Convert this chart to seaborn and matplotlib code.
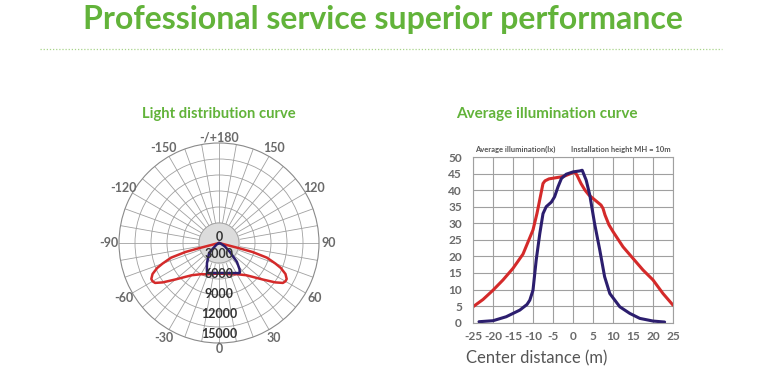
import numpy as np
import matplotlib
matplotlib.use("Agg")
import matplotlib.pyplot as plt
import seaborn as sns

# light distribution curve (polar, angle in degrees from nadir, intensity in cd)
red_angle = [-76, -75.5, -75, -73, -70, -68, -65, -62, -60, -58, -55, -50, -45, -40, -35, -30, -20, -10, 0,
             10, 20, 30, 35, 40, 45, 50, 55, 58, 60, 62, 65, 68, 70, 73, 75, 75.5, 76]
red_cd = [0, 3000, 5200, 7500, 9000, 10000, 11000, 11500, 11500, 11300, 10300, 8500, 7200, 6300, 5800, 5400,
          5000, 4700, 4600, 4700, 5000, 5400, 5800, 6300, 7200, 8500, 10300, 11300, 11500, 11500, 11000, 10000,
          9000, 7500, 5200, 3000, 0]
blue_angle = [-62, -56, -45, -31, -25, -21.8, -20, -10, 0, 10, 20, 30, 33, 35, 38, 43.5, 50.7, 60, 70, 74]
blue_cd = [0, 500, 2100, 3500, 4300, 4800, 4800, 4570, 4500, 4570, 4800, 5200, 5400, 5450, 5000, 3900, 2100,
           1000, 300, 0]
ring_labels = [0, 3000, 6000, 9000, 12000, 15000]
angle_ticks = list(range(0, 360, 10))
angle_names = {0: "0", 30: "30", 60: "60", 90: "90", 120: "120", 150: "150", 180: "-/+180",
               210: "-150", 240: "-120", 270: "-90", 300: "-60", 330: "-30"}

# average illumination curve
red_dist = [-25, -22.5, -20, -17.5, -15, -12.5, -10, -9, -8, -7.5, -7, -6, -5, -4, -3, -2, -1, 0, 0.5, 1, 2, 3,
            4, 5, 6, 7, 7.5, 8, 9, 10, 12.5, 15, 17.5, 20, 22.5, 25]
red_lux = [4.8, 7, 9.8, 12.9, 16.4, 20.7, 28, 33, 39, 42, 42.8, 43.4, 43.6, 43.8, 44, 44.3, 44.8, 45.3, 45.4,
           44.5, 42, 40, 38.5, 37.5, 36.5, 35.5, 34.5, 32.5, 29.5, 27.5, 22.9, 19.4, 15.9, 12.9, 8.8, 5.3]
blue_dist = [-23.5, -20, -16.7, -13.3, -11.5, -10.8, -10, -9.2, -8.3, -7.5, -6.7, -5.4, -4.6, -3.75, -2.9, -1.7,
             0, 1.7, 2.3, 3.3, 4.2, 5.4, 6.7, 7.9, 9.2, 11.7, 14.2, 16.7, 20, 22.9]
blue_lux = [0.3, 0.6, 1.8, 3.8, 5.5, 6.8, 9.8, 18.9, 26.9, 32.9, 35, 36.4, 38, 41, 43.5, 44.8, 45.5, 45.8, 46,
            43, 38.5, 29.9, 21.9, 13.9, 8.8, 4.8, 2.8, 1.3, 0.5, 0.2]
x_ticks = list(range(-25, 30, 5))
y_ticks = list(range(0, 55, 5))

RED = "#d42a2a"
BLUE = "#2c1e6e"
GREEN = "#62b33a"
GRID = "#a0a0a0"

sns.set_style("white")
plt.rcParams["font.family"] = ["Lato", "DejaVu Sans"]
plt.rcParams["axes.unicode_minus"] = False

fig = plt.figure(figsize=(7.8, 3.8), dpi=100)

fig.text(383 / 780, 0.948, "Professional service superior performance", ha="center", va="center",
         fontsize=23, fontweight="bold", color=GREEN)
fig.add_artist(plt.Line2D([40 / 780, 722 / 780], [1 - 49 / 380] * 2, transform=fig.transFigure,
                          color="#a8d48a", lw=0.9, ls=(0, (1, 1.5))))

# ---- polar chart
pax = fig.add_axes([119 / 780, 1 - 343 / 380, 200 / 780, 200 / 380], projection="polar")
pax.set_theta_zero_location("S")
pax.set_theta_direction(1)
pax.set_ylim(0, 15000)
pax.set_thetagrids(angle_ticks, [""] * len(angle_ticks))
pax.set_rgrids([3000, 5400, 7800, 10200, 12600], labels=[""] * 5)
pax.grid(True, color=GRID, lw=0.6)
pax.spines["polar"].set_color("#8a8a8a")
pax.spines["polar"].set_linewidth(0.8)

# angle labels just outside the rim
for a, name in angle_names.items():
    r = 15900 if a in (0, 180) else 16500
    pax.text(np.deg2rad(a), r, name, ha="center", va="center", fontsize=9, fontweight="bold",
             color="#6a6a6a", clip_on=False)

th = np.linspace(0, 2 * np.pi, 200)
pax.fill_between(th, 0, 3000, color="#dcdcdc", zorder=1.5)
pax.plot(th, np.full_like(th, 3000), color="#a0a0a0", lw=0.6, zorder=1.6)

sns.lineplot(x=np.deg2rad(red_angle), y=red_cd, sort=False, color=RED, lw=1.8, ax=pax, zorder=3)
sns.lineplot(x=np.deg2rad(blue_angle), y=blue_cd, sort=False, color=BLUE, lw=1.8, ax=pax, zorder=4)
pax.set_xlabel("")
pax.set_ylabel("")

for v in ring_labels:
    if v == 0:
        pax.text(np.pi, 900, "0", ha="center", va="center", fontsize=9, fontweight="bold", color="#333333",
                 zorder=5)
    else:
        pax.text(0, v - 1300, str(v), ha="center", va="center", fontsize=9, fontweight="bold",
                 color="#333333", zorder=5)

fig.text(219 / 780, 1 - 114 / 380, "Light distribution curve", ha="center", va="center",
         fontsize=10.6, fontweight="bold", color=GREEN)

# ---- cartesian chart
ax = fig.add_axes([473 / 780, 1 - 322.7 / 380, 200 / 780, 165.7 / 380])
sns.lineplot(x=red_dist, y=red_lux, color=RED, lw=2.2, ax=ax, sort=False)
sns.lineplot(x=blue_dist, y=blue_lux, color=BLUE, lw=2.2, ax=ax, sort=False)
ax.set_xlim(-25, 25)
ax.set_ylim(0, 50)
ax.set_xticks(x_ticks)
ax.set_yticks(y_ticks)
ax.grid(True, color=GRID, lw=0.8)
for s in ax.spines.values():
    s.set_color(GRID)
    s.set_linewidth(0.8)
ax.tick_params(length=0, labelsize=8.6, labelcolor="#6a6a6a")
ax.tick_params(axis="y", pad=8)
ax.tick_params(axis="x", pad=6)
for lab in ax.get_xticklabels() + ax.get_yticklabels():
    lab.set_fontweight("bold")
ax.set_xlabel("")
ax.set_ylabel("")
ax.text(0.01, 1.045, "Average illumination(lx)", transform=ax.transAxes, fontsize=5.5, color="#555555",
        fontweight="bold", va="center", ha="left")
ax.text(0.99, 1.045, "Installation height MH = 10m", transform=ax.transAxes, fontsize=5.5,
        color="#555555", fontweight="bold", va="center", ha="right")

fig.text(547 / 780, 1 - 114 / 380, "Average illumination curve", ha="center", va="center",
         fontsize=11, fontweight="bold", color=GREEN)
fig.text(466 / 780, 1 - 358 / 380, "Center distance (m)", ha="left", va="center",
         fontsize=12, color="#555555")

fig.savefig("out.png", dpi=100)
